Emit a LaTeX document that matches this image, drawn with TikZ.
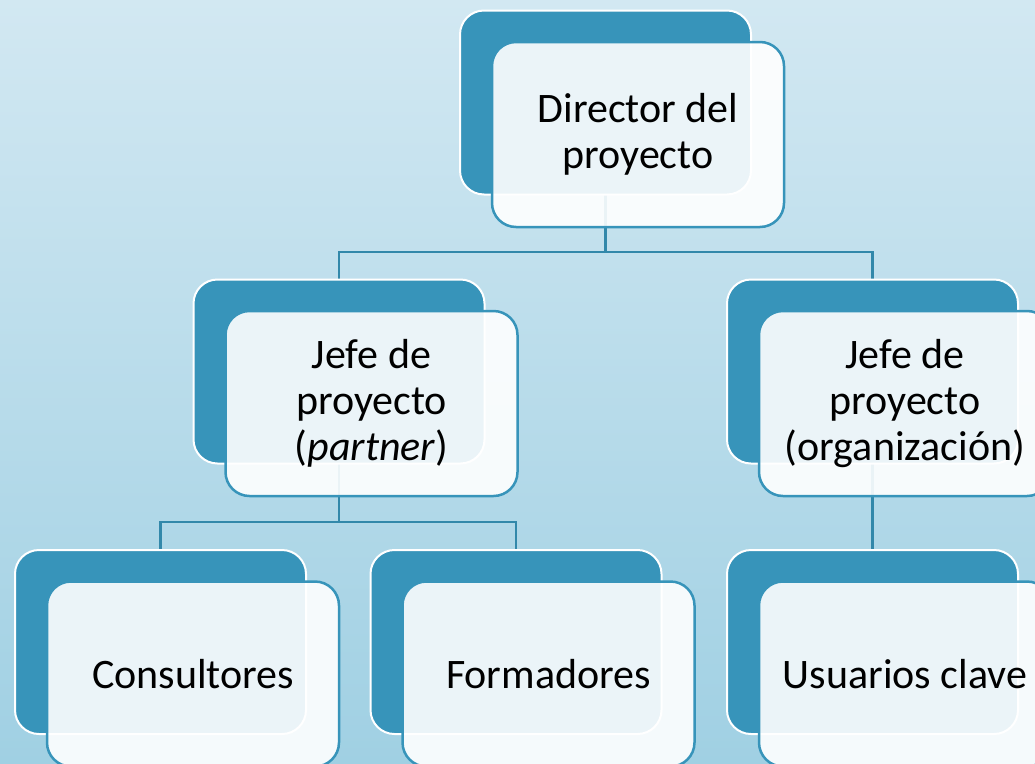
\documentclass[tikz,border=0pt]{standalone}
\usepackage{fontspec}
\setmainfont{Carlito}
\usetikzlibrary{calc}
\definecolor{boxteal}{RGB}{55,148,186}
\definecolor{linkteal}{RGB}{50,136,170}
\definecolor{bgtop}{RGB}{210,232,242}
\definecolor{bgbottom}{RGB}{160,208,227}
\tikzset{
every picture/.style={line width=2pt, x=1pt, y=-1pt},
%%%%%%%%%%  Node styles
backbox/.style={draw=white, fill=boxteal, rounded corners=24pt,
                minimum width=291pt, minimum height=184pt, inner sep=0pt},
frontbox/.style={draw=boxteal, line width=2.5pt, fill=white,
                 fill opacity=0.9, text opacity=1, rounded corners=24pt,
                 minimum width=292pt, minimum height=185pt, inner sep=0pt,
                 align=center, font=\fontsize{42pt}{46pt}\selectfont},
%%%% line styles:
link/.style={draw=linkteal, line width=2.5pt},
}

\begin{document}
\begin{tikzpicture}
\useasboundingbox (0,0) rectangle (1035,763);
\shade[top color=bgtop, bottom color=bgbottom] (0,0) rectangle (1035,763);
%%%%%%% box centres
\coordinate (cdir) at (605.5,102.5);
\coordinate (cpar) at (339,371.5);
\coordinate (corg) at (872.5,371.5);
\coordinate (ccon) at (160.5,642);
\coordinate (cfor) at (516,642);
\coordinate (cusu) at (872.5,642);
\coordinate (bus1) at (0,252);
\coordinate (bus2) at (0,522);
%%%%%%% connectors
\draw[link] (cdir) -- (cdir |- bus1) -| (cpar);
\draw[link] (cdir |- bus1) -| (corg);
\draw[link] (cpar) -- (cpar |- bus2) -| (ccon);
\draw[link] (cpar |- bus2) -| (cfor);
\draw[link] (corg) -- (cusu);
%%%%%%% back boxes
\node[backbox] (bdir) at (cdir) {};
\node[backbox] (bpar) at (cpar) {};
\node[backbox] (borg) at (corg) {};
\node[backbox] (bcon) at (ccon) {};
\node[backbox] (bfor) at (cfor) {};
\node[backbox] (busu) at (cusu) {};
%%%%%%% front boxes
\node[frontbox] (fdir) at ($(cdir)+(32.5,32)$) {Director del\\proyecto};
\node[frontbox] (fpar) at ($(cpar)+(32.5,32)$) {Jefe de\\proyecto\\(\textit{partner})};
\node[frontbox] (forg) at ($(corg)+(32.5,32)$) {Jefe de\\proyecto\\(organización)};
\node[frontbox] (fcon) at ($(ccon)+(32.5,32)$) {Consultores};
\node[frontbox] (ffor) at ($(cfor)+(32.5,32)$) {Formadores};
\node[frontbox] (fusu) at ($(cusu)+(32.5,32)$) {Usuarios clave};
\end{tikzpicture}
\end{document}
